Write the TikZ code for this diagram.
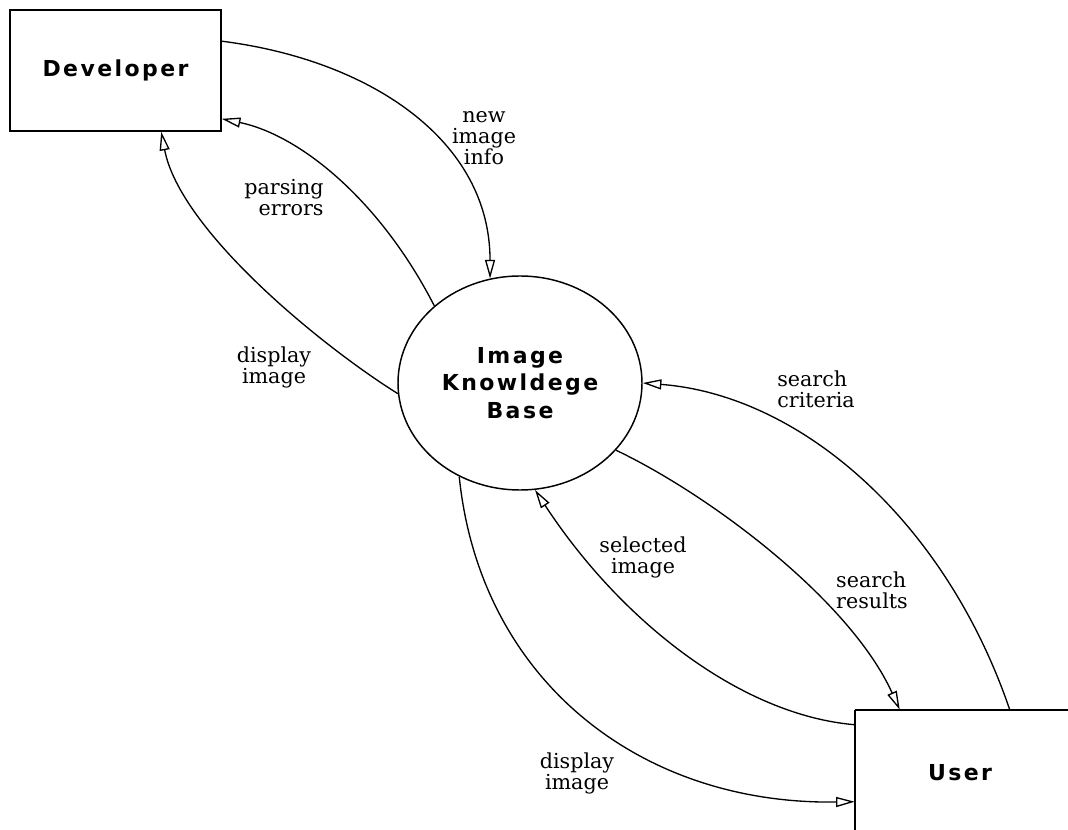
\documentclass[tikz,border=0pt]{standalone}
\usepackage{fontspec}
\setmainfont{DejaVu Serif}
\newfontfamily\boxfont{DejaVu Sans Bold}[LetterSpace=11]
\usetikzlibrary{arrows.meta,shapes.geometric,calc}
\tikzset{
  entity/.style={draw, rectangle, line width=1.2pt, minimum width=158.25pt, minimum height=90.75pt, inner sep=0pt, font=\boxfont\fontsize{16.5}{21}\selectfont},
  store/.style={draw, ellipse, line width=1.1pt, minimum width=183pt, minimum height=160.5pt, inner sep=0pt, align=center, font=\boxfont\fontsize{16.5}{20.5}\selectfont},
  flow/.style={line width=1pt, -{Triangle[open, length=14pt, width=7.5pt, line width=1pt]}},
  lbl/.style={inner sep=0pt, font=\fontsize{15.5}{15.75}\selectfont}
}
\begin{document}
\begin{tikzpicture}[x=0.75pt, y=-0.75pt]
\useasboundingbox (0,0) rectangle (1068,830);
\clip (0,0) rectangle (1068,830);
\fill[white] (0,0) rectangle (1068,830);

\node[entity] (dev) at (115.5,70.5) {Developer};
\node[store] (kb) at (520,383) {Image\\Knowldege\\Base};
\node[rectangle, minimum width=157.5pt, minimum height=94.5pt, inner sep=0pt, font=\boxfont\fontsize{16.5}{21}\selectfont] (user) at (960,773) {User};
\draw[line width=1.8pt] ($(user.north east)+(30,0)$) -- (user.north west);
\draw[line width=1.3pt] (user.north west) -- ($(user.south west)+(0,30)$);

\draw[flow] ($(dev.north east)+(0,32)$) .. controls (370,60) and (490,140) .. (kb.106);
\draw[flow] (kb.138) .. controls (380,200) and (300,135) .. ($(dev.south east)+(0,-13)$);
\draw[flow] (kb.185) .. controls (320,345) and (180,230) .. ($(dev.south west)+(152,0)$);
\draw[flow] ($(user.north west)+(155,0)$) .. controls (945,520) and (800,395) .. (kb.0);
\draw[flow] (kb.-35) .. controls (710,495) and (850,600) .. ($(user.north west)+(45,0)$);
\draw[flow] ($(user.north west)+(0,15)$) .. controls (740,715) and (620,620) .. (kb.-82);
\draw[flow] (kb.-123) .. controls (480,680) and (640,805) .. ($(user.north west)+(0,92)$);

\node[lbl, align=center] (l1) at (484,138) {new\\image\\info};
\node[lbl, align=right] (l2) at (284,198) {parsing\\errors};
\node[lbl, align=center] (l3) at (274,367) {display\\image};
\node[lbl, align=left] (l4) at (816,389) {search\\criteria};
\node[lbl, align=left] (l5) at (872,590) {search\\results};
\node[lbl, align=center] (l6) at (643,557) {selected\\image};
\node[lbl, align=center] (l7) at (577,773) {display\\image};
\end{tikzpicture}
\end{document}
